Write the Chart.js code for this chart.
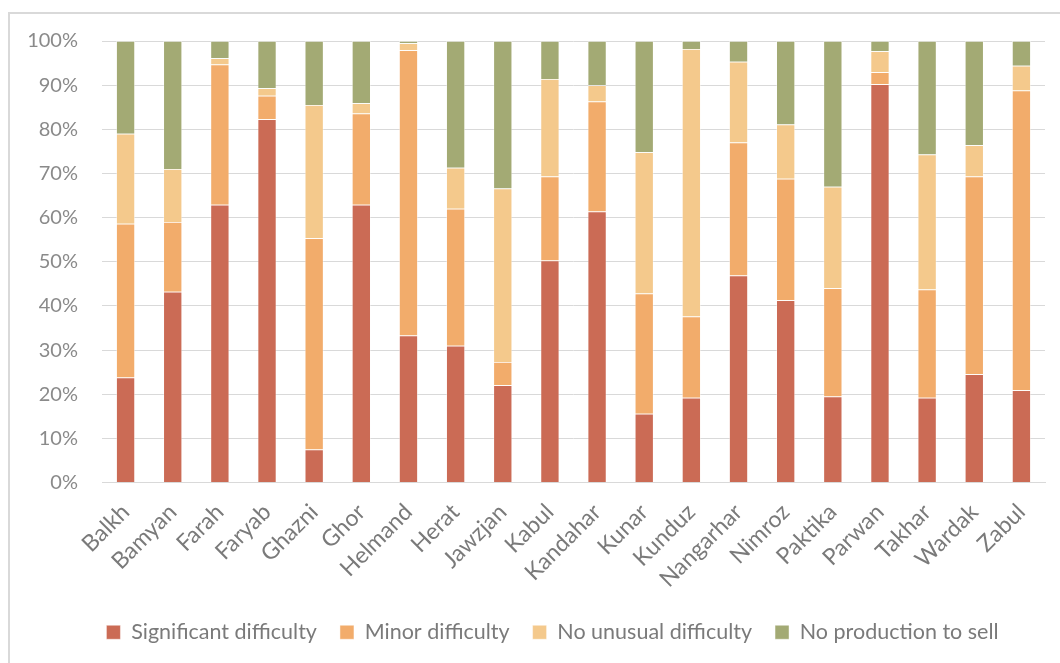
<!DOCTYPE html>
<html>
<head>
<meta charset="utf-8">
<script src="https://cdn.jsdelivr.net/npm/chart.js@4"></script>
<style>
  html, body { margin: 0; padding: 0; background: #fff; overflow: hidden; }
  #frame { position: absolute; left: 8px; top: 12px; width: 1100px; height: 700px; border: 2px solid #d9d9d9; }
  #wrap { position: absolute; left: 0; top: 0; width: 1060px; height: 663px; }
</style>
</head>
<body>
<div id="frame"></div>
<div id="wrap"><canvas id="chart"></canvas></div>
<script>
// Provinces
const provinces = ['Balkh', 'Bamyan', 'Farah', 'Faryab', 'Ghazni', 'Ghor', 'Helmand', 'Herat', 'Jawzjan', 'Kabul',
  'Kandahar', 'Kunar', 'Kunduz', 'Nangarhar', 'Nimroz', 'Paktika', 'Parwan', 'Takhar', 'Wardak', 'Zabul'];

// Shares (%)
const significant  = [23.8, 43.2, 62.9, 82.3, 7.5, 62.9, 33.3, 31.0, 22.0, 50.3, 61.4, 15.6, 19.2, 46.9, 41.3, 19.5, 90.2, 19.2, 24.5, 20.9];
const minor        = [34.8, 15.8, 31.8, 5.3, 47.8, 20.7, 64.6, 31.0, 5.3, 19.0, 24.9, 27.2, 18.4, 30.1, 27.5, 24.5, 2.7, 24.5, 44.8, 67.9];
const noUnusual    = [20.4, 12.0, 1.4, 1.7, 30.2, 2.3, 1.6, 9.3, 39.3, 22.1, 3.7, 32.0, 60.6, 18.3, 12.3, 23.0, 4.8, 30.6, 7.1, 5.6];
const noProduction = [21.0, 29.0, 3.9, 10.7, 14.5, 14.1, 0.5, 28.7, 33.4, 8.6, 10.0, 25.2, 1.8, 4.7, 18.9, 33.0, 2.3, 25.7, 23.6, 5.6];

const yTicks = [0, 10, 20, 30, 40, 50, 60, 70, 80, 90, 100];

const fontFamily = 'Lato, "Noto Sans", sans-serif';

function series(label, data, color) {
  return {
    label: label,
    data: data,
    backgroundColor: color,
    borderColor: 'rgba(255,255,255,0.6)',
    borderWidth: 0.75,
    barPercentage: 0.4,
    categoryPercentage: 1.0
  };
}

// nudge the legend to the right so it sits where Excel put it
const legendShift = {
  id: 'legendShift',
  afterLayout(chart) {
    chart.legend.left += 30;
    chart.legend.right += 30;
  }
};

new Chart(document.getElementById('chart'), {
  type: 'bar',
  data: {
    labels: provinces,
    datasets: [
      series('Significant difficulty', significant, '#cb6b55'),
      series('Minor difficulty', minor, '#f2ac6b'),
      series('No unusual difficulty', noUnusual, '#f4c98c'),
      series('No production to sell', noProduction, '#a3aa74')
    ]
  },
  plugins: [legendShift],
  options: {
    responsive: true,
    maintainAspectRatio: false,
    animation: false,
    layout: { padding: { top: 41, right: 15, left: 0, bottom: 10 } },
    plugins: {
      tooltip: { enabled: false },
      legend: {
        position: 'bottom',
        labels: {
          boxWidth: 14,
          boxHeight: 14,
          padding: 23,
          color: '#7a7a7a',
          font: { family: fontFamily, size: 21.5 }
        }
      }
    },
    scales: {
      x: {
        stacked: true,
        grid: { display: false },
        border: { color: '#d9d9d9', width: 1 },
        ticks: {
          minRotation: 45,
          maxRotation: 45,
          padding: 8,
          color: '#7a7a7a',
          font: { family: fontFamily, size: 23 }
        },
        afterFit: function(scale) { scale.height = 116; }
      },
      y: {
        stacked: true,
        min: 0,
        max: 100,
        afterBuildTicks: function(scale) { scale.ticks = yTicks.map(v => ({ value: v })); },
        grid: { color: '#d9d9d9', lineWidth: 1, drawTicks: false },
        border: { display: false },
        ticks: {
          padding: 24,
          color: '#8a8a8a',
          font: { family: fontFamily, size: 20 },
          callback: v => v + '%'
        },
        afterFit: function(scale) { scale.width = 102; }
      }
    }
  }
});
</script>
</body>
</html>
